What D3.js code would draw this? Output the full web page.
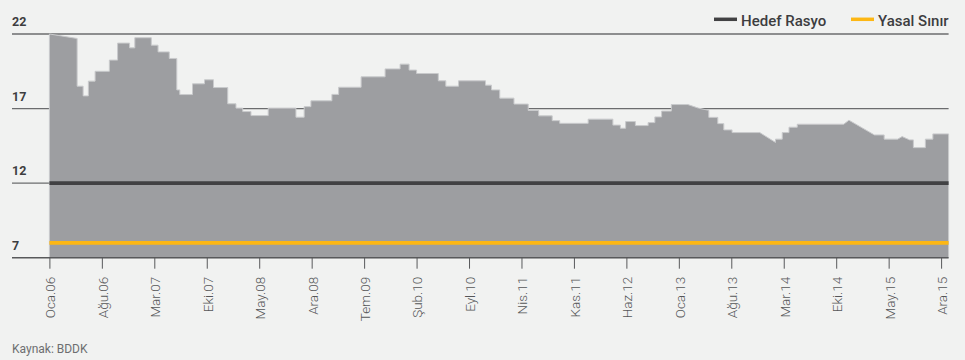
<!DOCTYPE html>
<html>
<head>
<meta charset="utf-8">
<script src="https://cdn.jsdelivr.net/npm/d3@7"></script>
<style>
  html, body { margin: 0; padding: 0; background: #f1f2f1; }
  svg { display: block; }
  text { font-family: Roboto, "Open Sans", "DejaVu Sans", sans-serif; }
</style>
</head>
<body>
<svg id="chart" width="965" height="360"></svg>
<script>
// Capital adequacy ratio (%), Jan 2006 – Dec 2015.
// Each segment starts at a month offset (months since Oca.06) and holds its level
// until the next segment; a few segments drift linearly to a closing value.
const changeMonth = [0, 3.7, 4.5, 5.2, 6.1, 8.0, 9.1, 10.7, 11.4, 13.6, 14.5, 16.0, 17.0, 17.4, 19.1,
  20.7, 21.9, 23.8, 24.9, 25.8, 26.9, 29.2, 32.9, 34.0, 34.9, 37.7, 38.6, 41.6, 44.8, 46.8,
  48.0, 49.0, 51.9, 52.9, 54.6, 58.2, 59.0, 60.1, 62.0, 63.9, 65.3, 67.1, 68.1, 71.9, 75.2,
  76.2, 76.9, 78.2, 79.9, 80.8, 81.7, 83.0, 85.2, 86.6, 88.0, 89.2, 90.0, 91.1, 94.8, 96.9,
  97.8, 98.7, 99.8, 106.0, 106.7, 110.1, 111.4, 113.2, 113.8, 114.8, 115.3, 116.9, 117.9];
const openValue = [22.0, 18.5, 17.85, 18.84, 19.5, 20.25, 21.39, 21.07, 21.75, 21.25, 20.8, 20.36, 18.25, 17.94, 18.66,
  18.93, 18.41, 17.32, 17.03, 16.8, 16.53, 17.03, 16.42, 17.13, 17.52, 17.95, 18.43, 19.13, 19.66, 19.98,
  19.58, 19.35, 18.86, 18.5, 18.86, 18.57, 18.25, 17.7, 17.3, 16.87, 16.51, 16.19, 16.01, 16.29, 15.89,
  15.68, 16.13, 15.86, 16.06, 16.44, 16.83, 17.27, 17.27, 17.03, 16.41, 15.99, 15.57, 15.39, 15.39, 14.95,
  15.39, 15.75, 15.95, 15.95, 16.22, 15.23, 14.95, 14.95, 15.12, 14.9, 14.38, 14.95, 15.3];
// Segments that drift, and the value they reach at the end of the segment
const rampMonth = [0, 85.2, 86.6, 94.8, 106.0, 106.7, 113.2, 113.8];
const rampClose = [21.7, 17.03, 16.88, 14.73, 16.22, 15.23, 15.12, 14.9];
const lastMonth = 120;

const hedefRasyo = 12;   // target ratio
const yasalSinir = 8;    // legal minimum

const yTicks = [7, 12, 17, 22];
const xTickMonths = [0, 7, 14, 21, 28, 35, 42, 49, 56, 63, 70, 77, 84, 91, 98, 105, 112, 119];
const xTickLabels = ["Oca.06", "Ağu.06", "Mar.07", "Eki.07", "May.08", "Ara.08", "Tem.09", "Şub.10",
  "Eyl.10", "Nis.11", "Kas.11", "Haz.12", "Oca.13", "Ağu.13", "Mar.14", "Eki.14", "May.15", "Ara.15"];

const legendItems = [
  { label: "Hedef Rasyo", color: "#414143" },
  { label: "Yasal Sınır", color: "#fdb714" }
];
const sourceNote = "Kaynak: BDDK";

// ---- layout ----
const svg = d3.select("#chart");
const W = 965, H = 360;
const gridLeft = 12, plotLeft = 49.4, plotRight = 948.6;
const x = d3.scaleLinear().domain([0, lastMonth]).range([plotLeft, plotRight]);
const y = d3.scaleLinear().domain([7, 22]).range([257.7, 34]);

svg.append("rect").attr("width", W).attr("height", H).attr("fill", "#f1f2f1");

// horizontal grid lines (behind the area)
svg.append("g").selectAll("line").data(yTicks.filter(d => d !== 7)).join("line")
  .attr("x1", gridLeft).attr("x2", plotRight)
  .attr("y1", d => y(d)).attr("y2", d => y(d))
  .attr("stroke", "#6b6c6e").attr("stroke-width", 1.3);

// build the outline of the series from the segments
const knots = [];
changeMonth.forEach((m, i) => {
  const end = i + 1 < changeMonth.length ? changeMonth[i + 1] : lastMonth;
  const r = rampMonth.indexOf(m);
  const close = r >= 0 ? rampClose[r] : openValue[i];
  knots.push([m, openValue[i]]);
  knots.push([end, close]);
});

const area = d3.area()
  .x(d => x(d[0]))
  .y0(y(7))
  .y1(d => y(d[1]))
  .curve(d3.curveLinear);

svg.append("path")
  .datum(knots)
  .attr("d", area)
  .attr("fill", "#9d9ea1")
  .attr("stroke", "#c9cacc")
  .attr("stroke-width", 1);

// reference lines
svg.append("line")
  .attr("x1", x(0)).attr("x2", x(lastMonth))
  .attr("y1", y(hedefRasyo)).attr("y2", y(hedefRasyo))
  .attr("stroke", legendItems[0].color).attr("stroke-width", 3.8);
svg.append("line")
  .attr("x1", x(0)).attr("x2", x(lastMonth))
  .attr("y1", y(yasalSinir)).attr("y2", y(yasalSinir))
  .attr("stroke", legendItems[1].color).attr("stroke-width", 3.8);

// baseline
svg.append("line")
  .attr("x1", gridLeft).attr("x2", plotRight)
  .attr("y1", y(7)).attr("y2", y(7))
  .attr("stroke", "#58595b").attr("stroke-width", 1.4);

// y labels sit above their grid lines
svg.append("g").selectAll("text").data(yTicks).join("text")
  .attr("x", gridLeft)
  .attr("y", d => y(d) - 7.8)
  .attr("font-size", 12.5)
  .attr("font-weight", 700)
  .attr("fill", "#3d3d3f")
  .text(d => d);

// x axis
const xAxis = d3.axisBottom(x)
  .tickValues(xTickMonths)
  .tickFormat((d, i) => xTickLabels[i])
  .tickSize(11)
  .tickSizeOuter(0);

const gx = svg.append("g").attr("transform", `translate(0,${y(7)})`).call(xAxis);
gx.select(".domain").remove();
gx.selectAll(".tick line").attr("stroke", "#58595b").attr("stroke-width", 1);
gx.selectAll(".tick text")
  .attr("transform", "translate(0,19) rotate(-90)")
  .attr("x", 0).attr("y", 0).attr("dy", "0.4em")
  .attr("text-anchor", "end")
  .attr("font-size", 13.5)
  .attr("font-weight", 300)
  .attr("font-family", "Roboto, 'Open Sans', sans-serif")
  .attr("fill", "#555658");

// legend
const legend = svg.append("g");
const legendX = [714, 851];
legendItems.forEach((item, i) => {
  const g = legend.append("g").attr("transform", `translate(${legendX[i]},0)`);
  g.append("line").attr("x1", 0).attr("x2", 23).attr("y1", 19.3).attr("y2", 19.3)
    .attr("stroke", item.color).attr("stroke-width", 3.5);
  g.append("text").attr("x", 27).attr("y", 26)
    .attr("font-size", 15).attr("font-weight", 500)
    .attr("fill", "#3d3d3f")
    .text(item.label);
});

// source note
svg.append("text")
  .attr("x", gridLeft).attr("y", 352.5)
  .attr("font-size", 12)
  .attr("fill", "#6d6e70")
  .text(sourceNote);
</script>
</body>
</html>
